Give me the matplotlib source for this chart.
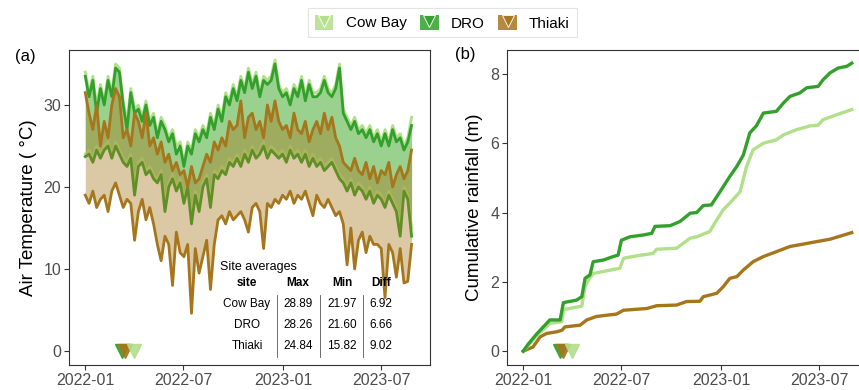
import matplotlib.pyplot as plt
import matplotlib.dates as mdates
import numpy as np
import pandas as pd
from matplotlib.lines import Line2D
from matplotlib.patches import Patch
from matplotlib.legend_handler import HandlerTuple

plt.rcParams['font.family'] = ['Liberation Sans', 'DejaVu Sans']

sites = ['Cow Bay', 'DRO', 'Thiaki']
site_colors = {'Cow Bay': '#B2DF8A', 'DRO': '#33A02C', 'Thiaki': '#A6761D'}

# weekly air temperature (deg C), starting 2022-01-01
week_start = '2022-01-01'
cowbay_max = [34, 31.5, 33.5, 30, 32.5, 30.5, 33.5, 31.5, 35, 34.5,
              30.5, 28, 32, 29.5, 30, 28.5, 30.5, 28, 29, 26.5,
              28.5, 27.5, 26, 27, 25, 25.5, 23, 25.5, 24.5, 27,
              26, 27.5, 26.5, 29, 27.5, 30, 28.5, 31.5, 30.5, 32.5,
              31, 33.5, 32, 34.5, 32.5, 34, 31.5, 33.5, 33, 33.5,
              35.5, 32.5, 31.5, 32, 30.5, 32.5, 31.5, 33.5, 31, 33,
              31.5, 31.5, 32, 33.5, 32, 31.5, 32.5, 35, 29.5, 28.5,
              27.5, 28.5, 27, 27.5, 26.5, 27.5, 26, 27, 25.5, 27,
              25.5, 27.5, 26, 26.5, 25, 26, 28.5]
cowbay_min = [24, 24.5, 23.5, 25, 24, 25, 25.5, 24, 25.5, 24.5,
              23.5, 23, 24, 20, 23, 23.5, 22, 22.5, 21.5, 21,
              22, 18, 20.5, 21.5, 20, 21, 18.5, 20.5, 16.5, 19.5,
              18, 20.5, 21.5, 18.5, 22, 21.5, 22.5, 22, 23.5, 23,
              24, 23, 24.5, 23.5, 25, 24, 24.5, 25.5, 24, 25,
              24.5, 24, 24.5, 23.5, 25, 24, 24.5, 23.5, 24.5, 23,
              24, 23, 23.5, 22.5, 23, 23.5, 22.5, 21.5, 21, 20,
              21, 19.5, 20.5, 20, 19, 20, 18.5, 19.5, 19, 18,
              19.5, 18.5, 17.5, 15, 20, 19, 15]
dro_max = [33.5, 31, 33, 29, 32, 30, 33, 31, 34.5, 34,
           30, 27, 31.5, 29, 29.5, 28, 30, 27.5, 28.5, 26,
           28, 27, 25.5, 26.5, 24, 25, 22.5, 25, 24, 26.5,
           25.5, 27, 26, 28.5, 27, 29.5, 28, 31, 30, 32,
           30.5, 33, 31.5, 34, 32, 33.5, 31, 33, 32.5, 33,
           35, 32, 31, 31.5, 30, 32, 31, 33, 30.5, 32.5,
           31, 31, 31.5, 33, 31.5, 31, 32, 34.5, 29, 28,
           27, 28, 26.5, 27, 26, 27, 25.5, 26.5, 25, 26.5,
           25, 27, 25.5, 26, 24.5, 25.5, 27.5]
dro_min = [23.7, 24, 23, 24.5, 23.5, 24.5, 25, 23.5, 25, 24,
           23, 22.5, 23.5, 19, 22.5, 23, 21.5, 22, 21, 20.5,
           21.5, 17, 20, 21, 19.5, 20.5, 18, 20, 15.5, 19,
           17, 20, 21, 17.5, 21.5, 21, 22, 21.5, 23, 22.5,
           23.5, 22.5, 24, 23, 24.5, 23.5, 24, 25, 23.5, 24.5,
           24, 23.5, 24, 23, 24.5, 23.5, 24, 23, 24, 22.5,
           23.5, 22.5, 23, 22, 22.5, 23, 22, 21, 20.5, 19.5,
           20.5, 19, 20, 19.5, 18.5, 19.5, 18, 19, 18.5, 17.5,
           19, 18, 17, 14, 19.5, 18.5, 14]
thiaki_max = [31.5, 29, 27, 30, 25, 28, 26, 30, 32, 31,
              26, 27, 25, 29, 28, 26, 29, 25, 26, 24,
              25.5, 23, 24, 22, 23, 21.5, 22, 20, 22.5, 20.5,
              21, 22.5, 24, 23, 25.5, 24.5, 26, 25, 28, 27,
              27.5, 30.5, 26, 28.5, 29, 27, 28, 26, 30, 28,
              30.5, 28, 27, 27.5, 26, 29, 27, 26.5, 28, 25.5,
              27, 28, 26.5, 29, 27, 28.5, 26, 25, 23, 22.5,
              22, 23.5, 22, 21.5, 23, 21, 22.5, 20.5, 22, 21.5,
              23, 20, 21.5, 22.5, 21, 22, 24.5]
thiaki_min = [19, 18, 19.5, 17.5, 18.5, 19, 17, 19.5, 20.5, 19,
              17.5, 18.5, 18, 13.5, 17, 18.5, 16, 17.5, 15.5, 13,
              11, 14, 13, 8, 14.5, 12, 11.5, 13, 4.6, 12.5,
              9.5, 11.5, 13.5, 7.5, 13, 16, 16.5, 15.5, 17, 16,
              16.5, 17, 16, 14.5, 17.5, 18, 17, 12.5, 18, 17.5,
              18.5, 18, 19, 18.5, 19.5, 18, 19, 18.5, 19.5, 18,
              16.5, 19, 18, 17.5, 18.5, 17.5, 16.5, 17, 15.5, 10.5,
              15, 10, 13.5, 14.5, 12, 14, 13, 13, 12.5, 6.5,
              13, 12, 9, 12.5, 8.3, 8.5, 13]

temp_max = {'Cow Bay': cowbay_max, 'DRO': dro_max, 'Thiaki': thiaki_max}
temp_min = {'Cow Bay': cowbay_min, 'DRO': dro_min, 'Thiaki': thiaki_min}

# cumulative rainfall (m)
rain_dates = {
    'DRO': ['2022-01-01', '2022-01-10', '2022-01-26', '2022-02-07', '2022-02-19',
            '2022-03-10', '2022-03-16', '2022-04-09', '2022-04-19', '2022-04-25',
            '2022-05-04', '2022-05-10', '2022-05-29', '2022-06-16', '2022-06-25',
            '2022-07-01', '2022-07-17', '2022-08-10', '2022-08-26', '2022-09-01',
            '2022-09-29', '2022-10-17', '2022-11-05', '2022-11-17', '2022-11-29',
            '2022-12-14', '2022-12-30', '2023-01-17', '2023-01-30', '2023-02-11',
            '2023-02-23', '2023-03-07', '2023-03-20', '2023-04-13', '2023-04-26',
            '2023-05-08', '2023-05-26', '2023-06-08', '2023-06-29', '2023-07-08',
            '2023-07-21', '2023-08-05', '2023-08-21', '2023-08-30'],
    'Cow Bay': ['2022-01-01', '2022-01-26', '2022-02-19', '2022-03-13', '2022-03-16',
                '2022-04-19', '2022-04-25', '2022-05-01', '2022-05-10', '2022-05-29',
                '2022-06-28', '2022-07-05', '2022-07-29', '2022-08-29', '2022-09-04',
                '2022-10-11', '2022-11-05', '2022-11-17', '2022-12-11', '2022-12-24',
                '2023-01-05', '2023-01-17', '2023-02-05', '2023-02-17', '2023-03-01',
                '2023-03-20', '2023-04-13', '2023-04-26', '2023-05-20', '2023-06-14',
                '2023-06-29', '2023-07-08', '2023-08-02', '2023-08-30'],
    'Thiaki': ['2022-01-01', '2022-01-19', '2022-02-01', '2022-02-13', '2022-03-04',
               '2022-03-13', '2022-03-19', '2022-04-16', '2022-04-28', '2022-05-16',
               '2022-06-22', '2022-07-05', '2022-08-17', '2022-09-04', '2022-10-11',
               '2022-10-29', '2022-11-23', '2022-11-29', '2022-12-24', '2023-01-05',
               '2023-01-17', '2023-01-30', '2023-02-11', '2023-03-01', '2023-03-20',
               '2023-04-13', '2023-05-08', '2023-06-02', '2023-06-26', '2023-07-21',
               '2023-08-30'],
}
rain_total = {
    'DRO': [0, 0.2, 0.5, 0.7, 0.9, 0.9, 1.4, 1.47, 1.57, 2.1,
            2.2, 2.58, 2.63, 2.73, 2.77, 3.2, 3.3, 3.35, 3.4, 3.6,
            3.62, 3.74, 3.98, 4.0, 4.2, 4.22, 4.6, 5.04, 5.33, 5.66,
            6.3, 6.5, 6.87, 6.92, 7.16, 7.35, 7.45, 7.6, 7.64, 7.83,
            8.03, 8.17, 8.22, 8.31],
    'Cow Bay': [0, 0.45, 0.8, 0.85, 1.2, 1.3, 1.86, 2.05, 2.24, 2.3,
                2.39, 2.68, 2.75, 2.82, 2.94, 2.97, 3.26, 3.3, 3.45, 3.79,
                4.08, 4.27, 4.6, 5.33, 5.81, 6.0, 6.1, 6.24, 6.39, 6.5,
                6.52, 6.68, 6.82, 6.97],
    'Thiaki': [0, 0.12, 0.41, 0.51, 0.56, 0.6, 0.7, 0.75, 0.9, 1.0,
               1.07, 1.18, 1.23, 1.31, 1.33, 1.43, 1.44, 1.57, 1.67, 1.86,
               2.1, 2.15, 2.34, 2.58, 2.73, 2.87, 3.02, 3.09, 3.16, 3.23,
               3.42],
}

# logger install dates, marked at y = 0
install_dates = {'DRO': '2022-03-10', 'Thiaki': '2022-03-16', 'Cow Bay': '2022-03-31'}

table_cols = ['site', 'Max', 'Min', 'Diff']
table_rows = [['Cow Bay', '28.89', '21.97', '6.92'],
              ['DRO', '28.26', '21.60', '6.66'],
              ['Thiaki', '24.84', '15.82', '9.02']]


def style_axis(ax):
    start = pd.Timestamp('2022-01-01')
    ax.set_xlim(start - pd.Timedelta(days=30), start + pd.Timedelta(days=636))
    ax.xaxis.set_major_locator(mdates.MonthLocator(bymonth=[1, 7]))
    ax.xaxis.set_major_formatter(mdates.DateFormatter('%Y-%m'))
    ax.tick_params(direction='out', length=3.5, width=0.8, color='#333333',
                   labelcolor='#4d4d4d', labelsize=11.5, pad=2)
    for s in ax.spines.values():
        s.set_color('#333333')
        s.set_linewidth(0.8)


fig = plt.figure(figsize=(8.59, 3.9), dpi=100)
ax1 = fig.add_axes([69 / 859, 25 / 390, 361 / 859, 315 / 390])
ax2 = fig.add_axes([507 / 859, 25 / 390, 361 / 859, 315 / 390])

weeks = pd.date_range(week_start, periods=len(dro_max), freq='7D')

# (a) temperature ribbons
for site in ['Cow Bay', 'DRO']:
    c = site_colors[site]
    ax1.fill_between(weeks, temp_min[site], temp_max[site], color=c, alpha=0.4,
                     lw=0, zorder=1)
for site in ['Cow Bay', 'DRO']:
    c = site_colors[site]
    ax1.plot(weeks, temp_max[site], color=c, lw=2.0, zorder=2)
    ax1.plot(weeks, temp_min[site], color=c, lw=2.0, zorder=2)
c = site_colors['Thiaki']
ax1.fill_between(weeks, thiaki_min, thiaki_max, color=c, alpha=0.4, lw=0, zorder=3)
ax1.plot(weeks, thiaki_max, color=c, lw=2.0, zorder=4)
ax1.plot(weeks, thiaki_min, color=c, lw=2.0, zorder=4)

for site in ['DRO', 'Thiaki', 'Cow Bay']:
    for ax in (ax1, ax2):
        ax.plot(pd.Timestamp(install_dates[site]), 0, marker='v', ms=10,
                color=site_colors[site], mec=site_colors[site], alpha=0.9,
                zorder=6, clip_on=False)

ax1.set_ylim(-1.7, 36.7)
ax1.set_yticks([0, 10, 20, 30])
ax1.set_ylabel('Air Temperature ( °C)', fontsize=13.5, labelpad=5)
style_axis(ax1)

# site averages table
ax1.text(0.418, 0.311, 'Site averages', transform=ax1.transAxes, fontsize=9,
         ha='left', va='center', zorder=7)
col_x = [0.493, 0.634, 0.756, 0.864]
row_y = [0.194, 0.127, 0.060]
for x, name in zip(col_x, table_cols):
    ax1.text(x, 0.260, name, transform=ax1.transAxes, fontsize=8.5,
             fontweight='bold', ha='center', va='center', zorder=7)
for y, row in zip(row_y, table_rows):
    for x, val in zip(col_x, row):
        ax1.text(x, y, val, transform=ax1.transAxes, fontsize=8.5,
                 ha='center', va='center', zorder=7)
for x in [0.576, 0.695, 0.814]:
    ax1.plot([x, x], [0.025, 0.222], transform=ax1.transAxes, color='#555555',
             lw=0.6, zorder=7)

# (b) cumulative rainfall
for site in ['Thiaki', 'Cow Bay', 'DRO']:
    ax2.plot(pd.to_datetime(rain_dates[site]), rain_total[site],
             color=site_colors[site], lw=2.4, zorder=3)
ax2.set_ylim(-0.40, 8.69)
ax2.set_yticks([0, 2, 4, 6, 8])
ax2.set_ylabel('Cumulative rainfall (m)', fontsize=13.5, labelpad=5)
style_axis(ax2)

fig.text(15 / 859, 1 - 56 / 390, '(a)', fontsize=12, ha='left', va='center')
fig.text(455 / 859, 1 - 54 / 390, '(b)', fontsize=12, ha='left', va='center')

# legend
handles = []
for site in sites:
    c = site_colors[site]
    sq = Patch(facecolor=c, edgecolor='none', alpha=0.85)
    tri = Line2D([], [], marker='v', ls='', ms=9, color=c, mec='#ffffff',
                 mew=0.7, alpha=0.9)
    handles.append((sq, tri))
leg = fig.legend(handles, sites, loc='upper center', bbox_to_anchor=(0.515, 1.0),
                 ncol=3, frameon=True, fancybox=False, fontsize=11,
                 handler_map={tuple: HandlerTuple(ndivide=1, pad=0)},
                 handlelength=1.2, handleheight=1.2, columnspacing=0.9,
                 handletextpad=0.8, borderpad=0.45)
leg.get_frame().set_edgecolor('#dddddd')
leg.get_frame().set_linewidth(0.8)

fig.savefig('out.png', dpi=100)
